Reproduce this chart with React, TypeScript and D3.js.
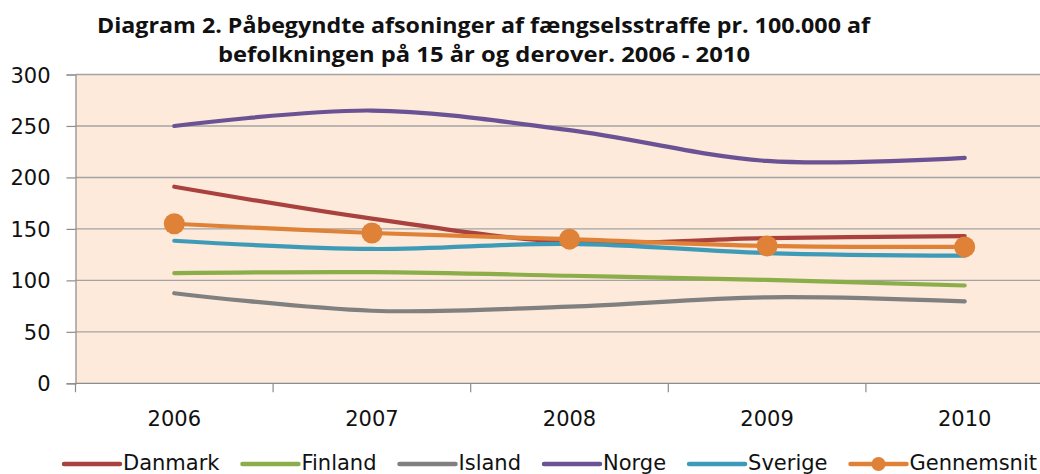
import React, { useEffect, useRef } from "react";
import * as d3 from "d3";

// values (per 100.000 inhabitants aged 15+)
const years = ["2006", "2007", "2008", "2009", "2010"];
const danmark = [191, 160, 137, 141, 143];
const finland = [107, 108, 104.5, 100.5, 95];
const island = [87.5, 70.5, 74.5, 83.5, 79.5];
const norge = [250, 265, 246, 216, 219];
const sverige = [138.5, 130.5, 135.5, 126.5, 124];
const gennemsnit = [155, 146, 140, 133.5, 132.5];
const yTicks = [0, 50, 100, 150, 200, 250, 300];

const seriesNames = ["Danmark", "Finland", "Island", "Norge", "Sverige", "Gennemsnit"];
const seriesColors = ["#A9423F", "#8BAE4A", "#808080", "#6B5295", "#3D9BB8", "#DF8237"];

const titleLines = [
  "Diagram 2. Påbegyndte afsoninger af fængselsstraffe pr. 100.000 af",
  "befolkningen på 15 år og derover. 2006 - 2010",
];

const W = 1040;
const H = 474;
const FONT = "'DejaVu Sans', sans-serif";

export default function App() {
  const ref = useRef<SVGSVGElement>(null);

  useEffect(() => {
    const svg = d3.select(ref.current);
    svg.selectAll("*").remove();

    const left = 75.5, right = 1063.5, top = 74.5, bottom = 383.3;

    const x = d3.scaleBand<string>().domain(years).range([left, right]);
    const y = d3.scaleLinear().domain([0, 300]).range([bottom, top]);

    // title
    const titleBox = [
      { x: 97, w: 773, base: 33 },
      { x: 218, w: 532, base: 62 },
    ];
    titleLines.forEach((t, i) => {
      svg.append("text")
        .attr("x", titleBox[i].x)
        .attr("y", titleBox[i].base)
        .attr("textLength", titleBox[i].w)
        .attr("lengthAdjust", "spacingAndGlyphs")
        .style("font-family", "'Open Sans', sans-serif")
        .style("font-weight", 700)
        .style("font-size", "21px")
        .attr("fill", "#111")
        .text(t);
    });

    // plot background
    svg.append("rect")
      .attr("x", left).attr("y", top)
      .attr("width", right - left).attr("height", bottom - top)
      .attr("fill", "#FDEADA");

    // gridlines
    svg.append("g").selectAll("line")
      .data(yTicks.filter((t) => t > 0))
      .join("line")
      .attr("x1", left).attr("x2", right)
      .attr("y1", (d) => y(d)).attr("y2", (d) => y(d))
      .attr("stroke", "#A3A3A3").attr("stroke-width", 1.4);

    // y axis
    const yAxis = d3.axisLeft(y).tickValues(yTicks).tickSize(9).tickPadding(16);
    const gy = svg.append("g").attr("transform", `translate(${left},0)`).call(yAxis);
    gy.select(".domain").attr("stroke", "#8C8C8C").attr("stroke-width", 1.2);
    gy.selectAll(".tick line").attr("stroke", "#8C8C8C").attr("stroke-width", 1.2);
    gy.selectAll("text")
      .style("font-family", FONT).style("font-size", "21px")
      .attr("fill", "#111").attr("dy", "0.36em");

    // x axis with tick marks at category boundaries
    svg.append("line")
      .attr("x1", left).attr("x2", right)
      .attr("y1", bottom).attr("y2", bottom)
      .attr("stroke", "#8C8C8C").attr("stroke-width", 1.2);
    svg.append("g").selectAll("line")
      .data(years.concat(["end"]))
      .join("line")
      .attr("x1", (_d, i) => left + i * x.step())
      .attr("x2", (_d, i) => left + i * x.step())
      .attr("y1", bottom).attr("y2", bottom + 9)
      .attr("stroke", "#8C8C8C").attr("stroke-width", 1.2);
    svg.append("g").selectAll("text")
      .data(years)
      .join("text")
      .attr("x", (d) => (x(d) ?? 0) + x.bandwidth() / 2)
      .attr("y", 426)
      .attr("text-anchor", "middle")
      .style("font-family", FONT).style("font-size", "21px")
      .attr("fill", "#111")
      .text((d) => d);

    // series
    const allSeries = [danmark, finland, island, norge, sverige, gennemsnit];
    const line = d3.line<number>()
      .x((_d, i) => (x(years[i]) ?? 0) + x.bandwidth() / 2)
      .y((d) => y(d))
      .curve(d3.curveCardinal.tension(0));

    allSeries.forEach((vals, i) => {
      svg.append("path")
        .attr("d", line(vals))
        .attr("fill", "none")
        .attr("stroke", seriesColors[i])
        .attr("stroke-width", 4.2)
        .attr("stroke-linecap", "round")
        .attr("stroke-linejoin", "round");
    });

    svg.append("g").selectAll("circle")
      .data(gennemsnit)
      .join("circle")
      .attr("cx", (_d, i) => (x(years[i]) ?? 0) + x.bandwidth() / 2)
      .attr("cy", (d) => y(d))
      .attr("r", 10.5)
      .attr("fill", seriesColors[5]);

    // legend (sits at the bottom edge, like the reference)
    const legend = svg.append("g");
    let lx = 64;
    const ly = 464;
    seriesNames.forEach((name, i) => {
      legend.append("line")
        .attr("x1", lx).attr("x2", lx + 56)
        .attr("y1", ly).attr("y2", ly)
        .attr("stroke", seriesColors[i]).attr("stroke-width", 4.5)
        .attr("stroke-linecap", "round");
      if (name === "Gennemsnit") {
        legend.append("circle")
          .attr("cx", lx + 28).attr("cy", ly).attr("r", 7)
          .attr("fill", seriesColors[i]);
      }
      const t = legend.append("text")
        .attr("x", lx + 59).attr("y", 470)
        .style("font-family", FONT).style("font-size", "21px")
        .attr("fill", "#111")
        .text(name);
      const tw = (t.node() as SVGTextElement).getComputedTextLength();
      lx += 59 + tw + 23;
    });
  }, []);

  return (
    <svg
      ref={ref}
      width={W}
      height={H}
      style={{ position: "absolute", left: 0, top: 0, background: "#fff" }}
    />
  );
}
